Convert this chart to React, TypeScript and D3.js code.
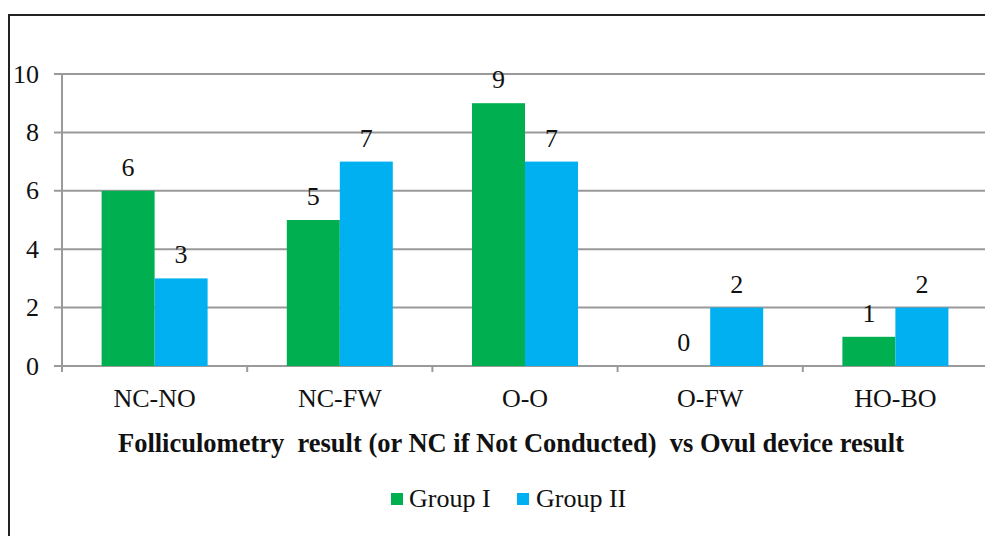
import React from "react";
import * as d3 from "d3";

const categories = ["NC-NO", "NC-FW", "O-O", "O-FW", "HO-BO"];
const groupI = [6, 5, 9, 0, 1];
const groupII = [3, 7, 7, 2, 2];
const seriesNames = ["Group I", "Group II"];
const yTicks = [0, 2, 4, 6, 8, 10];
const xTitle = "Folliculometry  result (or NC if Not Conducted)  vs Ovul device result";

const colors = ["#00B050", "#00B0F0"];
const FONT = "'Liberation Serif', 'Times New Roman', serif";

export default function App() {
  const W = 985, H = 536;
  const left = 62, right = 988, top = 74, bottom = 366;
  const x = d3.scaleBand<string>().domain(categories).range([left, right]).paddingInner(0).paddingOuter(0);
  const y = d3.scaleLinear().domain([0, 10]).range([bottom, top]);
  const bw = x.bandwidth();
  const inner = d3.scaleBand<string>().domain(seriesNames).range([0, 106]);
  const offset = (bw - 106) / 2;
  const series = [groupI, groupII];
  const fs = 26;

  return (
    <svg width={W} height={H} style={{ position: "absolute", left: 0, top: 0, background: "#fff" }}>
      <rect x={0} y={0} width={W} height={H} fill="#fff" />
      <rect x={9} y={15} width={1100} height={700} fill="none" stroke="#222" strokeWidth={2} />
      {yTicks.map((t) => (
        <g key={t}>
          <line x1={54} x2={right} y1={y(t)} y2={y(t)} stroke="#9a9a9a" strokeWidth={2} />
          <text x={39} y={y(t)} dy="0.33em" textAnchor="end" fontFamily={FONT} fontSize={fs} fill="#111">{t}</text>
        </g>
      ))}
      <line x1={left} x2={left} y1={top} y2={bottom + 6} stroke="#9a9a9a" strokeWidth={2} />
      {categories.map((c) => (
        <line key={"tk" + c} x1={x(c)! + bw} x2={x(c)! + bw} y1={bottom} y2={bottom + 6} stroke="#9a9a9a" strokeWidth={2} />
      ))}
      {categories.map((c, i) => (
        <g key={c}>
          {series.map((s, j) => {
            const bx = x(c)! + offset + inner(seriesNames[j])!;
            const v = s[i];
            return (
              <g key={j}>
                {v > 0 && (
                  <rect x={bx} y={y(v)} width={inner.bandwidth()} height={y(0) - y(v)} fill={colors[j]} />
                )}
                <text x={bx + inner.bandwidth() / 2} y={y(v) - 15} textAnchor="middle" fontFamily={FONT} fontSize={fs} fill="#111">{v}</text>
              </g>
            );
          })}
          <text x={x(c)! + bw / 2} y={407} textAnchor="middle" fontFamily={FONT} fontSize={fs} fill="#111">{c}</text>
        </g>
      ))}
      <text x={511} y={452} textAnchor="middle" fontFamily={FONT} fontSize={26.5} fontWeight="bold" fill="#111" style={{ whiteSpace: "pre" }} xmlSpace="preserve">{xTitle}</text>
      <g>
        <rect x={391} y={493} width={12} height={12} fill={colors[0]} />
        <text x={409} y={507} fontFamily={FONT} fontSize={fs} fill="#111">{seriesNames[0]}</text>
        <rect x={517} y={493} width={12} height={12} fill={colors[1]} />
        <text x={536} y={507} fontFamily={FONT} fontSize={fs} fill="#111">{seriesNames[1]}</text>
      </g>
    </svg>
  );
}
